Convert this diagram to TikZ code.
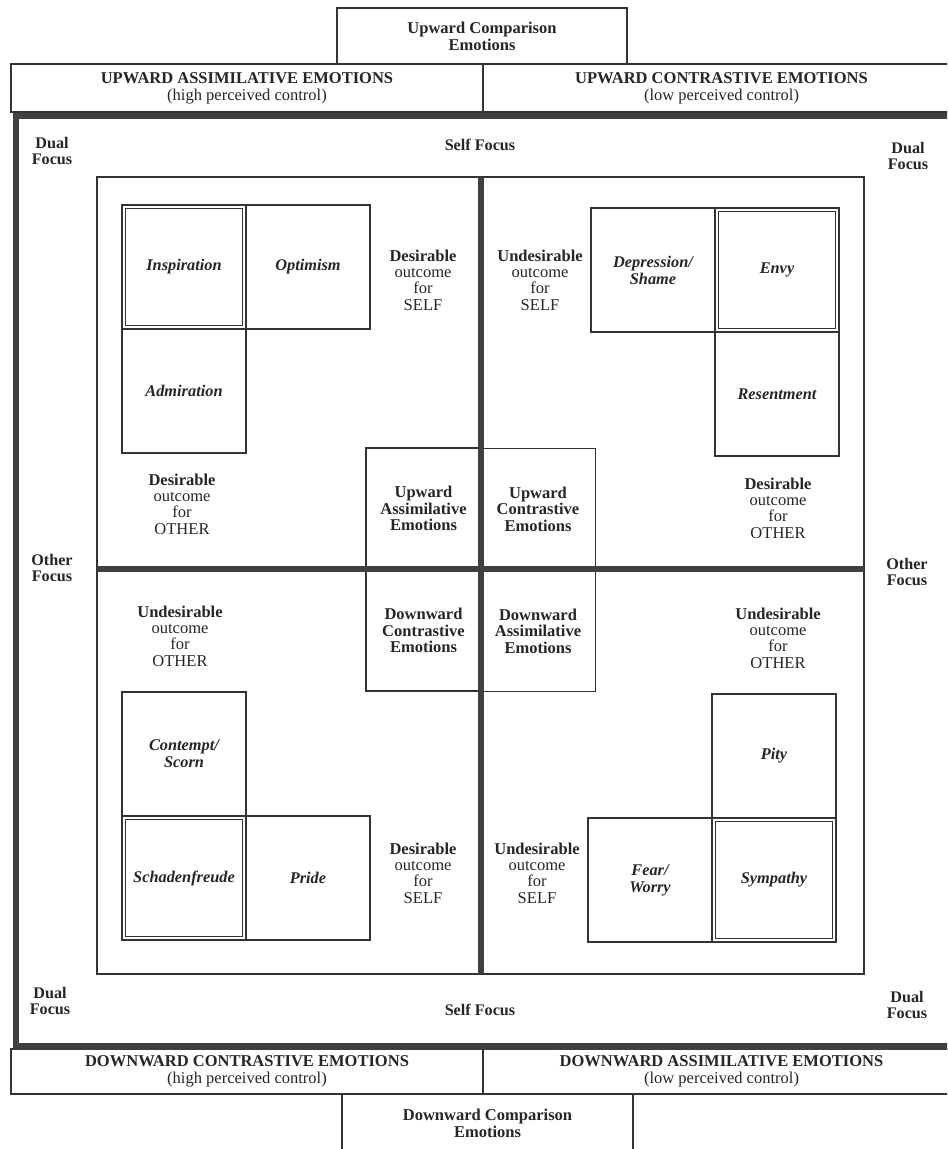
\documentclass[tikz,border=0pt]{standalone}
\usepackage{fontspec}
\setmainfont{Liberation Serif}
\usetikzlibrary{calc}

\begin{document}
\begin{tikzpicture}[x=0.02cm, y=-0.02cm,
  every node/.style={text=black!85, font=\fontsize{9.4}{9.6}\selectfont},
  thinline/.style={draw=black!80, line width=0.8pt},
  heavy/.style={draw=black!75, line width=0.14cm},
  emobox/.style={thinline, inner sep=0pt, minimum width=2.48cm, minimum height=2.48cm, align=center, font=\fontsize{9.3}{9.6}\selectfont\bfseries\itshape},
  midbox/.style={thinline, inner sep=0pt, minimum width=2.3cm, minimum height=2.42cm, align=center, font=\fontsize{9.4}{9.4}\selectfont\bfseries},
  headbox/.style={thinline, inner sep=0pt, minimum height=0.96cm, align=center},
  outlbl/.style={align=center, font=\fontsize{9.4}{9.3}\selectfont},
  focuslbl/.style={align=center, font=\fontsize{9.2}{9.4}\selectfont\bfseries}]
\useasboundingbox (0,0) rectangle (947,1149);
\clip (0,0) rectangle (947,1149);
\fill[white] (0,0) rectangle (947,1149);

% top and bottom headers
\node[thinline, inner sep=0pt, minimum width=5.8cm, minimum height=1.12cm, align=center, font=\fontsize{9.4}{9.6}\selectfont\bfseries] (upcmp) at (482,36) {Upward Comparison\\Emotions};
\node[headbox, minimum width=9.44cm] (upass) at (247,88) {\textbf{UPWARD ASSIMILATIVE EMOTIONS}\\(high perceived control)};
\node[headbox, minimum width=9.54cm] (upcon) at (721.5,88) {\textbf{UPWARD CONTRASTIVE EMOTIONS}\\(low perceived control)};
\node[headbox, minimum width=9.44cm, minimum height=0.9cm] (dncon) at (247,1071.5) {\textbf{DOWNWARD CONTRASTIVE EMOTIONS}\\(high perceived control)};
\node[headbox, minimum width=9.54cm, minimum height=0.9cm] (dnass) at (721.5,1071.5) {\textbf{DOWNWARD ASSIMILATIVE EMOTIONS}\\(low perceived control)};
\node[thinline, inner sep=0pt, minimum width=5.82cm, minimum height=1.16cm, align=center, font=\fontsize{9.4}{9.6}\selectfont\bfseries] (dncmp) at (487.5,1123) {Downward Comparison\\Emotions};

% heavy frame and inner square
\draw[heavy] (960,116) -- (16,116) -- (16,1046) -- (960,1046);
\draw[thinline] (97,177) rectangle (864,974);

% upper left
\node[emobox] (insp) at (184,267) {Inspiration};
\node[emobox] (opt) at (308,267) {Optimism};
\node[emobox] (adm) at (184,391) {Admiration};
\node[midbox] (uass) at (423.5,508.5) {Upward\\Assimilative\\Emotions};
% upper right
\node[emobox] (dep) at (653,270) {Depression/\\Shame};
\node[emobox] (envy) at (777,270) {Envy};
\node[emobox] (res) at (777,394) {Resentment};
\node[midbox] (ucon) at (538,509) {Upward\\Contrastive\\Emotions};
% lower left
\node[midbox] (dcon) at (423.5,630.5) {Downward\\Contrastive\\Emotions};
\node[emobox] (cont) at (184,754) {Contempt/\\Scorn};
\node[emobox] (schad) at (184,878) {Schadenfreude};
\node[emobox] (pride) at (308,878) {Pride};
% lower right
\node[midbox] (dass) at (538,631) {Downward\\Assimilative\\Emotions};
\node[emobox] (pity) at (774,756) {Pity};
\node[emobox] (fear) at (650,880) {Fear/\\Worry};
\node[emobox] (symp) at (774,880) {Sympathy};

% double frames
\foreach \b in {insp,envy,schad,symp}
  \draw[thinline, line width=0.6pt] ($(\b.north west)+(4,4)$) rectangle ($(\b.south east)+(-4,-4)$);

% thick cross
\draw[heavy, line width=0.12cm] (481,177) -- (481,974);
\draw[heavy, line width=0.12cm] (97,569) -- (864,569);

% outcome labels
\node[outlbl] (ulself) at (423,280) {\textbf{Desirable}\\outcome\\for\\SELF};
\node[outlbl] (ulother) at (182,504) {\textbf{Desirable}\\outcome\\for\\OTHER};
\node[outlbl] (urself) at (540,280) {\textbf{Undesirable}\\outcome\\for\\SELF};
\node[outlbl] (urother) at (778,508) {\textbf{Desirable}\\outcome\\for\\OTHER};
\node[outlbl] (llother) at (180,636) {\textbf{Undesirable}\\outcome\\for\\OTHER};
\node[outlbl] (llself) at (423,873) {\textbf{Desirable}\\outcome\\for\\SELF};
\node[outlbl] (lrother) at (778,638) {\textbf{Undesirable}\\outcome\\for\\OTHER};
\node[outlbl] (lrself) at (537,873) {\textbf{Undesirable}\\outcome\\for\\SELF};

% focus labels
\node[focuslbl] (selftop) at (480,145) {Self Focus};
\node[focuslbl] (selfbot) at (480,1010) {Self Focus};
\node[focuslbl] (dualtl) at (52,151) {Dual\\Focus};
\node[focuslbl] (dualtr) at (908,156) {Dual\\Focus};
\node[focuslbl] (dualbl) at (50,1001) {Dual\\Focus};
\node[focuslbl] (dualbr) at (907,1005) {Dual\\Focus};
\node[focuslbl] (othl) at (52,568) {Other\\Focus};
\node[focuslbl] (othr) at (907,572) {Other\\Focus};
\end{tikzpicture}
\end{document}
